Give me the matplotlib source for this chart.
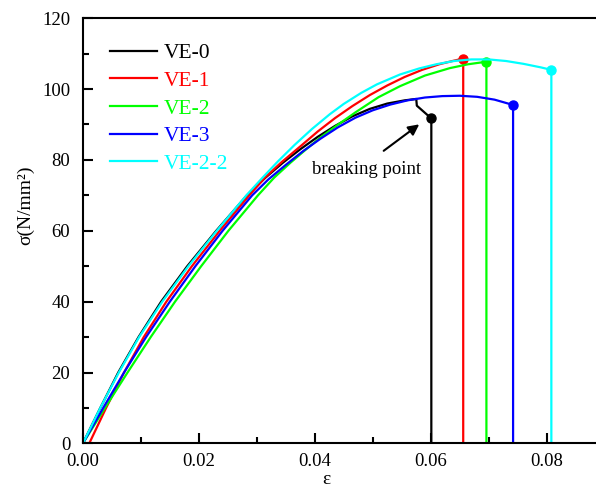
import numpy as np
import matplotlib.pyplot as plt
from matplotlib.ticker import MultipleLocator

plt.rcParams['font.family'] = ['Liberation Serif', 'DejaVu Serif']

# stress-strain curves, last point is the drop to zero after breaking
labels = ['VE-0', 'VE-1', 'VE-2', 'VE-3', 'VE-2-2']
colors = ['#000000', '#ff0000', '#00ff00', '#0000ff', '#00ffff']

ve0_eps = [0, 0.0030, 0.0061, 0.0096, 0.0135, 0.0180, 0.0230, 0.0283, 0.0315, 0.0345, 0.0375, 0.0405,
           0.0435, 0.0465, 0.0495, 0.0525, 0.0555, 0.0575, 0.0576, 0.0601, 0.0601]
ve0_sig = [0, 10, 20, 30, 40, 50, 60, 70, 75.0, 79.2, 83.0, 86.5,
           89.6, 92.3, 94.4, 95.9, 96.8, 97.2, 95.3, 91.7, 0]

ve1_eps = [0.0011, 0.0040, 0.0071, 0.0105, 0.0144, 0.0188, 0.0236, 0.0287, 0.0314, 0.0343, 0.0375, 0.0405,
           0.0435, 0.0465, 0.0495, 0.0525, 0.0555, 0.0585, 0.0615, 0.0640, 0.0656, 0.0656]
ve1_sig = [0, 10, 20, 30, 40, 50, 60, 70, 75.0, 79.4, 83.8, 88.0,
           91.8, 95.2, 98.3, 101.0, 103.4, 105.4, 107.0, 108.0, 108.6, 0]

ve2_eps = [0, 0.0038, 0.0077, 0.0117, 0.0159, 0.0204, 0.0251, 0.0302, 0.0330, 0.0358, 0.0383, 0.0408,
           0.0437, 0.0470, 0.0510, 0.0547, 0.0590, 0.0633, 0.0665, 0.0696, 0.0696]
ve2_sig = [0, 10, 20, 30, 40, 50, 60, 70, 75.0, 79.2, 82.7, 86.1,
           89.6, 93.4, 97.7, 100.8, 103.8, 105.9, 107.0, 107.7, 0]

ve3_eps = [0, 0.0035, 0.0071, 0.0109, 0.0150, 0.0194, 0.0241, 0.0292, 0.0320, 0.0350, 0.0380, 0.0410,
           0.0440, 0.0470, 0.0500, 0.0530, 0.0560, 0.0590, 0.0620, 0.0650, 0.0680, 0.0710, 0.0742, 0.0742]
ve3_sig = [0, 10, 20, 30, 40, 50, 60, 70, 74.5, 78.6, 82.5, 86.0,
           89.2, 91.9, 94.0, 95.6, 96.8, 97.6, 98.0, 98.1, 97.8, 97.0, 95.5, 0]

ve22_eps = [0, 0.0030, 0.0062, 0.0097, 0.0137, 0.0182, 0.0231, 0.0282, 0.0310, 0.0336, 0.0365, 0.0395,
            0.0426, 0.0450, 0.0480, 0.0507, 0.0547, 0.0580, 0.0610, 0.0640, 0.0670, 0.0700, 0.0730,
            0.0760, 0.0790, 0.0808, 0.0808]
ve22_sig = [0, 10, 20, 30, 40, 50, 60, 70, 75.0, 79.5, 84.2, 88.7,
            92.9, 95.8, 98.9, 101.3, 104.1, 105.8, 107.0, 107.9, 108.35, 108.35, 107.9,
            107.1, 106.1, 105.4, 0]

all_eps = [ve0_eps, ve1_eps, ve2_eps, ve3_eps, ve22_eps]
all_sig = [ve0_sig, ve1_sig, ve2_sig, ve3_sig, ve22_sig]

fig = plt.figure(figsize=(5.96, 4.9), dpi=100)
ax = fig.add_axes([0.139, 0.095, 0.861, 0.868])

for e, s, c, lab in zip(all_eps, all_sig, colors, labels):
    ax.plot(e, s, color=c, lw=1.6, label=lab, solid_joinstyle='round')
    # breaking point marker
    ax.plot(e[-2], s[-2], 'o', color=c, ms=6.5)

ax.set_xlim(0, 0.0885)
ax.set_ylim(0, 120)
ax.xaxis.set_minor_locator(MultipleLocator(0.01))
ax.yaxis.set_major_locator(MultipleLocator(20))
ax.yaxis.set_minor_locator(MultipleLocator(10))
ax.set_xticks(np.arange(0, 0.081, 0.02))
ax.set_xticklabels(['0.00', '0.02', '0.04', '0.06', '0.08'])
ax.tick_params(which='major', direction='in', length=7, width=1.5, labelsize=13.5)
ax.tick_params(which='minor', direction='in', length=4, width=1.5)
ax.tick_params(axis='x', pad=7)
ax.tick_params(axis='y', pad=9)
ax.spines['right'].set_visible(False)
for sp in ['left', 'top', 'bottom']:
    ax.spines[sp].set_linewidth(1.5)

ax.set_xlabel('ε', fontsize=14)
ax.xaxis.set_label_coords(0.474, -0.065)
ax.set_ylabel('σ(N/mm²)', fontsize=14)
ax.yaxis.set_label_coords(-0.094, 0.56)

ax.annotate('', xy=(0.0584, 90.5), xytext=(0.0515, 82.1),
            arrowprops=dict(arrowstyle='-|>', color='k', lw=1.5, mutation_scale=16))
ax.text(0.0489, 77.2, 'breaking point', fontsize=13.5, ha='center', va='center')

leg = ax.legend(loc='upper left', bbox_to_anchor=(0.052, 0.941), frameon=False,
                fontsize=15.5, handlelength=2.2, handletextpad=0.3,
                labelspacing=0.35, borderpad=0, borderaxespad=0, labelcolor='linecolor')
for h in leg.get_lines():
    h.set_linewidth(1.6)

fig.savefig('out.png', dpi=100)
